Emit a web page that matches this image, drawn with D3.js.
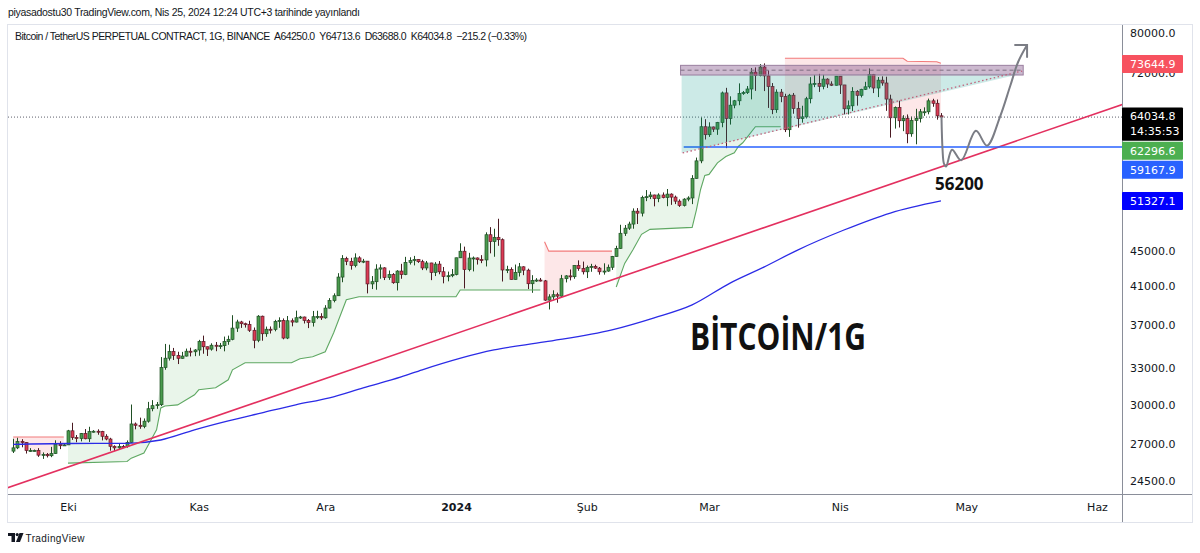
<!DOCTYPE html>
<html><head><meta charset="utf-8">
<script src="https://cdn.jsdelivr.net/npm/d3@7"></script>
<style>html,body{margin:0;padding:0;background:#fff;}svg{display:block;}</style>
</head><body>
<svg id="c" width="1200" height="553"></svg>
<script>
// ---------------- DATA ----------------
const firstDay = "2023-09-18";
// daily candles [open, high, low, close]
const sep2023 = [[26530,27410,26400,26760],[26760,27490,26670,27210],[27210,27380,26800,27130],[27130,27160,26360,26570],[26570,26740,26480,26580],[26580,26640,26510,26580],[26580,26740,26130,26250],[26250,26440,25990,26300],[26300,26400,26090,26210],[26210,26830,26110,26360],[26360,27300,26340,27020],[27020,27230,26670,26910],[26910,27090,26890,26970]];
const oct2023 = [[26970,28060,26960,27990],[27990,28590,27330,27500],[27500,27680,27160,27430],[27430,27830,27220,27790],[27790,28120,27370,27410],[27410,28290,27180,27930],[27930,28040,27860,27960],[27960,28100,27700,27940],[27940,27990,27290,27590],[27590,27740,27300,27390],[27390,27480,26560,26870],[26870,26940,26540,26760],[26760,27100,26690,26860],[26860,26970,26810,26850],[26850,27290,26770,27150],[27150,30000,27110,28500],[28500,28610,28100,28400],[28400,28980,28140,28320],[28320,28920,28180,28710],[28710,30210,28600,29670],[29670,30350,29470,29910],[29910,30200,29660,29990],[29990,34000,29880,33080],[33080,35200,32880,33900],[33900,35130,33690,34500],[34500,34830,33740,34150],[34150,34480,33380,33890],[33890,34470,33860,34090],[34090,34770,34050,34530],[34530,34850,34060,34480],[34480,34720,34080,34640]];
const nov2023 = [[34640,35580,34120,35420],[35420,35980,34300,34940],[34940,34950,34100,34720],[34720,35260,34580,35080],[35080,35380,34530,35040],[35040,35290,34740,35040],[35040,35890,34520,35420],[35420,35980,35120,35630],[35630,37970,35540,36700],[36700,37520,36330,37300],[37300,37410,36720,37130],[37130,37230,36750,37060],[37060,37420,36330,36490],[36490,36760,34800,35540],[35540,37980,35360,37870],[37870,37930,35500,36160],[36160,36850,35870,36590],[36590,36860,36180,36580],[36580,37510,36390,37360],[37360,37760,36730,37450],[37450,37650,35630,35750],[35750,37890,35650,37420],[37420,37650,36870,37290],[37290,38430,37250,37720],[37720,37900,37600,37790],[37790,37830,37150,37450],[37450,37590,36700,37240],[37240,38400,36850,37820],[37820,38420,37580,37850],[37850,38170,37500,37710]];
const dec2023 = [[37710,38990,37620,38690],[38690,39720,38650,39460],[39460,40220,39280,39970],[39970,42420,39970,41990],[41990,44490,41420,44080],[44080,44300,43330,43770],[43770,44180,42820,43290],[43290,44700,43080,44170],[44170,44360,43580,43720],[43720,44050,43560,43790],[43790,43790,40220,41240],[41240,42100,40680,41480],[41480,43430,40610,42880],[42880,43420,41800,43020],[43020,43090,41660,41940],[41940,42720,41680,42260],[42260,42430,41250,41370],[41370,42760,40530,42660],[42660,43480,41800,42270],[42270,44290,42200,43650],[43650,44240,43400,43860],[43860,44400,43300,43990],[43990,44020,43590,43730],[43730,43950,42770,43010],[43010,43810,42750,43580],[43580,43600,41650,42510],[42510,43680,42100,43450],[43450,43800,42300,42580],[42580,43120,41300,42060],[42060,42600,41520,42140],[42140,42890,41970,42280]];
const jan2024 = [[42280,44190,42180,44180],[44180,45900,44150,44950],[44950,45500,40750,42820],[42820,44760,42630,44150],[44150,44330,42620,44160],[44160,44220,43400,43970],[43970,44490,43560,43930],[43930,47250,43180,46950],[46950,47900,44700,46110],[46110,47700,44300,46630],[46630,48970,45600,46340],[46340,46500,41500,42780],[42780,43260,42430,42840],[42840,43080,41720,41730],[41730,43400,41720,42510],[42510,43580,42050,43140],[43140,43200,42200,42760],[42760,42930,40680,41260],[41260,42200,40280,41620],[41620,41870,41450,41660],[41660,41890,41500,41570],[41570,41670,39430,39510],[39510,40130,38550,39850],[39850,40550,39500,40080],[40080,40300,39240,39930],[39930,42230,39800,41810],[41810,42200,41400,42120],[42120,42840,41620,42030],[42030,43310,41800,43300],[43300,43880,42690,42940],[42940,43740,42280,42580]];
const feb2024 = [[42580,43290,41880,43080],[43080,43480,42580,43190],[43190,43380,42890,42990],[42990,43120,42260,42580],[42580,43540,42260,42660],[42660,43400,42580,43090],[43090,44400,42790,44340],[44340,45600,44330,45290],[45290,48200,45250,47130],[47130,48170,46800,47770],[47770,48590,47550,48290],[48290,50330,47700,49960],[49960,50370,48300,49700],[49700,52040,49270,51800],[51800,52820,51300,51910],[51910,52580,51580,52140],[52140,52180,50600,51650],[51650,52370,51160,52140],[52140,52490,51680,51780],[51780,52970,50620,52260],[52260,52370,50800,51850],[51850,52060,50900,51300],[51300,51540,50520,50730],[50730,51700,50580,51570],[51570,51960,51280,51730],[51730,54940,50900,54480],[54480,57550,54440,57050],[57050,64000,56700,62430],[62430,63680,60360,61130]];
const mar2024 = [[61130,63160,60780,62390],[62390,62450,61570,62030],[62030,63230,61100,63130],[63130,68500,62340,68250],[68250,69170,59000,63790],[63790,67640,62780,66080],[66080,67000,65540,66850],[66850,69990,66070,68170],[68170,68600,67900,68300],[68300,69500,68060,68960],[68960,72880,67100,72100],[72100,73000,68620,71450],[71450,73650,71300,73070],[73070,73780,68580,71390],[71390,72420,65600,69400],[69400,70050,64530,65300],[65300,68900,64760,68390],[68390,68960,66600,67610],[67610,68100,61550,61940],[61940,68080,60780,67840],[67840,68240,64600,65500],[65500,66660,62280,63780],[63780,65980,63100,64060],[64060,67550,63800,67210],[67210,71150,66400,69880],[69880,71560,69300,69990],[69990,71770,68430,69450],[69450,71580,68900,70780],[70780,70940,69150,69870],[69870,70370,69500,69640],[69640,71370,69600,71330]];
const apr2024 = [[71330,71360,68060,69700],[69700,69700,64500,65450],[65450,66900,64480,65970],[65970,69290,65060,68490],[68490,68750,66000,67820],[67820,69000,67440,68900],[68900,70280,68780,69360],[69360,72800,69040,71620],[71620,71750,68220,69140],[69140,71170,67500,70580],[70580,71300,69560,70060],[70060,71230,65100,67150],[67150,67930,60660,63920],[63920,65850,62120,65660],[65660,66860,62300,63420],[63420,64360,61700,63790],[63790,64480,59770,61280],[61280,64110,60800,63470],[63470,65450,59600,63820],[63820,65420,63130,64940],[64940,65700,64250,64940],[64940,67230,64500,66840],[66840,67200,65800,66410],[66410,67070,63600,64250],[64250,64713.6,63688,64034.8]];

const monthTicks = [["2023-10-01","Eki"],["2023-11-01","Kas"],["2023-12-01","Ara"],["2024-01-01","2024"],["2024-02-01","Şub"],["2024-03-01","Mar"],["2024-04-01","Nis"],["2024-05-01","May"],["2024-06-01","Haz"]];
const priceTicks = [80000,72000,45000,41000,37000,33000,30000,27000,24500];

// Supertrend segments [date, price]
const stRed1 = [["2023-09-18",27540],["2023-09-30",27540]];
const stGreen1 = [["2023-10-01",25700],["2023-10-15",25810],["2023-10-16",26040],["2023-10-19",26390],["2023-10-22",28060],["2023-10-23",29730],["2023-10-24",29890],["2023-10-27",29970],["2023-10-31",30780],["2023-11-01",31190],["2023-11-05",31350],["2023-11-08",32020],["2023-11-09",32880],["2023-11-12",33490],["2023-11-23",33490],["2023-11-25",33850],["2023-11-28",34030],["2023-12-01",34480],["2023-12-03",36250],["2023-12-06",39550],["2023-12-09",39870],["2024-01-01",39870],["2024-01-02",40580],["2024-01-21",40580]];
const stRed2 = [["2024-01-22",46100],["2024-01-23",44960],["2024-02-07",44960]];
const stGreen2 = [["2024-02-08",40900],["2024-02-10",43530],["2024-02-12",45150],["2024-02-14",47000],["2024-02-16",47620],["2024-02-26",47870],["2024-02-27",50100],["2024-02-28",52900],["2024-02-29",54900],["2024-03-01",55050],["2024-03-03",56740],["2024-03-05",57710],["2024-03-07",58280],["2024-03-08",59300],["2024-03-09",59840],["2024-03-12",62430],["2024-03-18",62430]];
const stRed3 = [["2024-03-19",74780],["2024-04-16",74780],["2024-04-17",74200],["2024-04-24",74100],["2024-04-25",73800]];

// Moving average (blue)
const maLine = [["2023-09-18",27010],["2023-10-01",27070],["2023-10-15",27080],["2023-10-23",27320],["2023-10-31",28060],["2023-11-08",28730],["2023-11-16",29350],["2023-11-24",29980],["2023-12-02",30530],["2023-12-10",31350],["2023-12-19",32270],["2023-12-24",32880],["2024-01-10",34650],["2024-01-22",35390],["2024-02-07",36530],["2024-02-17",37710],["2024-02-26",39020],["2024-03-06",41330],["2024-03-14",43110],["2024-03-22",45090],["2024-04-02",47540],["2024-04-13",49720],["2024-04-25",51327.1]];

// Drawings
const trendLine = [["2023-09-15",23930],["2024-06-08",66460]];
const supportLevel = {from:"2024-02-24", to:"2024-06-10", price:59167.9};
const resistanceBox = {from:"2024-02-23T06:00:00Z", to:"2024-05-14T12:00:00Z", top:73400, bottom:71550};
const wedgeFill = [["2024-02-23T12:00:00Z",71550],["2024-05-14T00:00:00Z",71800],["2024-02-23T12:00:00Z",58250]];
const wedgeLine = [["2024-02-23T18:00:00Z",58250],["2024-05-14T06:00:00Z",72310]];
const projection = [["2024-04-25T03:00:00Z",64080],["2024-04-25T09:00:00Z",58760],["2024-04-25T17:00:00Z",56640],["2024-04-26T05:00:00Z",56200],["2024-04-27T15:00:00Z",58760],["2024-04-29T19:00:00Z",57140],["2024-05-03T07:00:00Z",61760],["2024-05-05T22:00:00Z",59390],["2024-05-09T00:00:00Z",64080],["2024-05-11T10:00:00Z",69500],["2024-05-13T07:00:00Z",74050],["2024-05-15T10:00:00Z",77440]];
const targetNote = {date:"2024-04-23T14:00:00Z", price:52870, text:"56200"};
const lastPrice = 64034.8;
const priceLabels = [
  {v:73644.9, text:["73644.9"], bg:"#f7525f"},
  {v:64034.8, text:["64034.8","14:35:53"], bg:"#000000"},
  {v:62296.6, text:["62296.6"], bg:"#4caf50"},
  {v:59167.9, text:["59167.9"], bg:"#2962ff"},
  {v:51327.1, text:["51327.1"], bg:"#0000ff"}
];

// ---------------- CHART ----------------
const svg = d3.select("#c");
const L = 8, R = 1122, T = 25, B = 494;
const x = d3.scaleUtc().domain([new Date("2023-10-01"), new Date("2024-06-01")]).range([68, 1097]);
const y = d3.scaleLog().domain([80000, 24500]).range([32.7, 481.3]);
const D = s => new Date(s);

const candles = [].concat(sep2023, oct2023, nov2023, dec2023, jan2024, feb2024, mar2024, apr2024);
const start = new Date(firstDay);
const rows = candles.map((d,i)=>({date:d3.utcDay.offset(start,i), o:d[0], h:d[1], l:d[2], c:d[3]}));

svg.append("rect").attr("x",0).attr("y",0).attr("width",1200).attr("height",553).attr("fill","#fff");
svg.append("defs").append("clipPath").attr("id","plot").append("rect")
  .attr("x",L).attr("y",T).attr("width",R-L).attr("height",B-T);
const g = svg.append("g").attr("clip-path","url(#plot)");

// supertrend fills
function band(seg){
  const t0 = +D(seg[0][0]), t1 = +D(seg[seg.length-1][0]);
  const top = seg.map(p=>[x(D(p[0])), y(p[1])]);
  const mids = rows.filter(r=>+r.date>=t0 && +r.date<=t1).map(r=>[x(r.date), y((r.o+r.c)/2)]);
  return top.concat(mids.reverse());
}
const poly = d3.line();
[[stRed1,"rgba(242,54,69,0.12)"],[stGreen1,"rgba(76,175,80,0.12)"],[stRed2,"rgba(242,54,69,0.12)"],[stGreen2,"rgba(76,175,80,0.12)"],[stRed3,"rgba(242,54,69,0.12)"]]
  .forEach(([s,c])=>g.append("path").attr("d",poly(band(s))+"Z").attr("fill",c));

// candles
const cw = 3;
const cg = g.append("g");
rows.forEach(r=>{
  const cx = Math.round(x(r.date))+0.5;
  const up = r.c >= r.o;
  cg.append("line").attr("x1",cx).attr("x2",cx).attr("y1",y(r.h)).attr("y2",y(r.l))
    .attr("stroke", up?"#1f4f24":"#4a1a22").attr("stroke-width",1);
  const y1 = y(Math.max(r.o,r.c)), y2 = y(Math.min(r.o,r.c));
  cg.append("rect").attr("x",cx-cw/2).attr("y",y1).attr("width",cw).attr("height",Math.max(1,y2-y1))
    .attr("fill", up?"#4a9a4e":"#dc3b55").attr("stroke", up?"#1f4f24":"#5a1a26").attr("stroke-width",0.7);
});

// supertrend lines
const ln = d3.line().x(p=>x(D(p[0]))).y(p=>y(p[1]));
[[stRed1,"#f27a7a"],[stGreen1,"#5fa863"],[stRed2,"#f27a7a"],[stGreen2,"#5fa863"],[stRed3,"#f27a7a"]]
  .forEach(([s,c])=>g.append("path").attr("d",ln(s)).attr("fill","none").attr("stroke",c).attr("stroke-width",1.1));

// MA
g.append("path").attr("d", d3.line().x(p=>x(D(p[0]))).y(p=>y(p[1])).curve(d3.curveMonotoneX)(maLine))
  .attr("fill","none").attr("stroke","#2b2be6").attr("stroke-width",1.3);

// last price dotted line
g.append("line").attr("x1",L).attr("x2",R).attr("y1",y(lastPrice)).attr("y2",y(lastPrice))
  .attr("stroke","#5d606b").attr("stroke-width",1).attr("stroke-dasharray","1,2");

// trend line
g.append("path").attr("d",ln(trendLine)).attr("stroke","#e3305f").attr("stroke-width",1.6).attr("fill","none");

// support line
g.append("line").attr("x1",x(D(supportLevel.from))).attr("x2",x(D(supportLevel.to)))
  .attr("y1",y(supportLevel.price)).attr("y2",y(supportLevel.price))
  .attr("stroke","#2962ff").attr("stroke-width",1.4);

// wedge fill
g.append("path").attr("d",ln(wedgeFill)+"Z").attr("fill","rgba(0,150,136,0.2)");
// resistance box
const bx0 = x(D(resistanceBox.from)), bx1 = x(D(resistanceBox.to));
g.append("rect").attr("x",bx0).attr("y",y(resistanceBox.top)).attr("width",bx1-bx0)
  .attr("height",y(resistanceBox.bottom)-y(resistanceBox.top))
  .attr("fill","rgba(120,70,130,0.38)").attr("stroke","#9a7f9f").attr("stroke-width",1);
const midP = Math.sqrt(resistanceBox.top*resistanceBox.bottom);
g.append("line").attr("x1",bx0).attr("x2",bx1).attr("y1",y(midP)).attr("y2",y(midP))
  .attr("stroke","#7d6e82").attr("stroke-width",1).attr("stroke-dasharray","4,3");
// wedge dotted line
g.append("path").attr("d",ln(wedgeLine)).attr("stroke","#c0607a").attr("stroke-width",1.3)
  .attr("stroke-dasharray","1.5,2.5").attr("fill","none");

// projection path
g.append("path").attr("d", d3.line().x(p=>x(D(p[0]))).y(p=>y(p[1])).curve(d3.curveCatmullRom.alpha(0.5))(projection))
  .attr("fill","none").attr("stroke","#7b7d85").attr("stroke-width",2).attr("stroke-linejoin","round");
const tip = projection[projection.length-1];
const tx = x(D(tip[0])), ty = y(tip[1]);
g.append("path").attr("d",`M${tx-12},${ty}L${tx},${ty}L${tx},${ty+12}`)
  .attr("fill","none").attr("stroke","#7b7d85").attr("stroke-width",2).attr("stroke-linecap","round");

// texts
g.append("text").attr("x",x(D(targetNote.date))).attr("y",y(targetNote.price))
  .attr("font-family","'Open Sans', sans-serif").attr("font-weight",700).attr("font-size",17)
  .attr("fill","#111").text(targetNote.text);
g.append("text").attr("x",690).attr("y",350).attr("textLength",176).attr("lengthAdjust","spacingAndGlyphs")
  .attr("font-family","'Open Sans', sans-serif").attr("font-weight",700).attr("font-size",37)
  .attr("fill","#111").text("BİTCOİN/1G");

// frame
svg.append("rect").attr("x",7.5).attr("y",24.5).attr("width",1185).attr("height",498)
  .attr("fill","none").attr("stroke","#e0e3eb");
svg.append("line").attr("x1",R+0.5).attr("x2",R+0.5).attr("y1",T).attr("y2",522).attr("stroke","#8a8e99");
svg.append("line").attr("x1",L).attr("x2",1192).attr("y1",B+0.5).attr("y2",B+0.5).attr("stroke","#8a8e99");

// axes
const ax = svg.append("g").attr("transform",`translate(0,${B})`)
  .call(d3.axisBottom(x).tickValues(monthTicks.map(m=>D(m[0]))).tickSize(0).tickPadding(9)
    .tickFormat((d,i)=>monthTicks[i][1]));
ax.select(".domain").remove();
ax.selectAll("text").attr("font-family","'DejaVu Sans', sans-serif").attr("font-size",11).attr("fill","#131722")
  .attr("font-weight",(d,i)=>monthTicks[i][1]==="2024"?"bold":"normal");

const ay = svg.append("g").attr("transform",`translate(${R},0)`)
  .call(d3.axisRight(y).tickValues(priceTicks).tickSize(0).tickPadding(8).tickFormat(d=>d.toFixed(1)));
ay.select(".domain").remove();
ay.selectAll("text").attr("font-family","'DejaVu Sans', sans-serif").attr("font-size",11).attr("fill","#131722");

// price labels (stacked)
let prevBottom = -Infinity;
priceLabels.forEach(pl=>{
  const h = pl.text.length===1 ? 18 : 33.4;
  let top = y(pl.v) - 9 - (pl.text.length>1?0.7:0);
  if (top < prevBottom + 1) top = prevBottom + 1;
  prevBottom = top + h;
  svg.append("rect").attr("x",R).attr("y",top).attr("width",61).attr("height",h).attr("fill",pl.bg).attr("rx",1);
  pl.text.forEach((t,i)=>svg.append("text").attr("x",R+8).attr("y",top+9+i*15).attr("dy","0.35em")
    .attr("font-family","'DejaVu Sans', sans-serif").attr("font-size",11).attr("fill","#fff").text(t));
});

// header
svg.append("text").attr("x",8).attr("y",16).attr("font-family","'Liberation Sans', Arial, sans-serif")
  .attr("font-size",10.5).attr("fill","#131722").attr("textLength",352)
  .text("piyasadostu30 TradingView.com, Nis 25, 2024 12:24 UTC+3 tarihinde yayınlandı");
svg.append("text").attr("x",15).attr("y",40).attr("font-family","'Liberation Sans', Arial, sans-serif")
  .attr("font-size",10.5).attr("fill","#131722").attr("textLength",512)
  .attr("xml:space","preserve")
  .text("Bitcoin / TetherUS PERPETUAL CONTRACT, 1G, BINANCE  A64250.0  Y64713.6  D63688.0  K64034.8  −215.2 (−0.33%)");

// footer logo
const lg = svg.append("g").attr("fill","#131722");
lg.append("rect").attr("x",8).attr("y",533).attr("width",7).attr("height",3);
lg.append("rect").attr("x",11.5).attr("y",533).attr("width",3.5).attr("height",9);
lg.append("circle").attr("cx",17.2).attr("cy",534.6).attr("r",1.6);
lg.append("path").attr("d","M19.5,533 L23.5,533 L20,542 L16,542 Z");
svg.append("text").attr("x",25.5).attr("y",541.5).attr("font-family","'Liberation Sans', Arial, sans-serif")
  .attr("font-size",10).attr("fill","#131722").attr("textLength",59).text("TradingView");
</script>
</body></html>
